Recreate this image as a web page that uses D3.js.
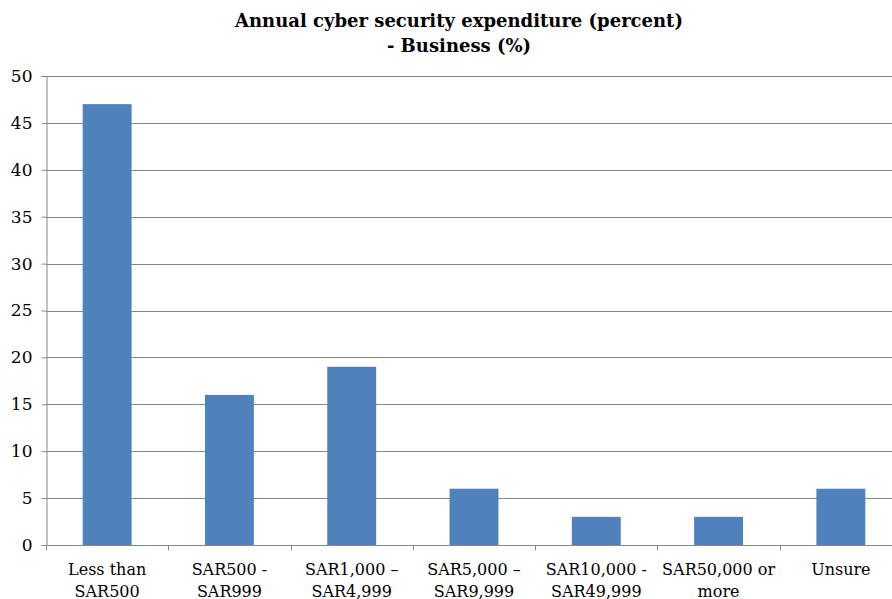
<!DOCTYPE html>
<html>
<head>
<meta charset="utf-8">
<script src="https://cdn.jsdelivr.net/npm/d3@7"></script>
<style>
  body { margin: 0; background: #fff; }
  svg { display: block; }
</style>
</head>
<body>
<div id="chart"></div>
<script>
// chart data
const categories = [
  ["Less than", "SAR500"],
  ["SAR500 -", "SAR999"],
  ["SAR1,000 \u2013", "SAR4,999"],
  ["SAR5,000 \u2013", "SAR9,999"],
  ["SAR10,000 -", "SAR49,999"],
  ["SAR50,000 or", "more"],
  ["Unsure"]
];
const values = [47, 16, 19, 6, 3, 3, 6];
const yTicks = [0, 5, 10, 15, 20, 25, 30, 35, 40, 45, 50];
const titleLines = ["Annual cyber security expenditure (percent)", "- Business (%)"];

const width = 892;
const height = 599;
const margin = { top: 76, right: -10, bottom: 54, left: 46 };
const serif = "'DejaVu Serif', serif";

const svg = d3.select("#chart")
  .append("svg")
  .attr("width", width)
  .attr("height", height)
  .style("font-family", serif);

const x = d3.scaleBand()
  .domain(d3.range(categories.length))
  .range([margin.left, width - margin.right])
  .paddingInner(0)
  .paddingOuter(0);

const y = d3.scaleLinear()
  .domain([0, 50])
  .range([height - margin.bottom, margin.top]);

const gridColor = "#888";

// gridlines
svg.append("g")
  .selectAll("line")
  .data(yTicks.filter(d => d > 0))
  .enter()
  .append("line")
  .attr("x1", margin.left)
  .attr("x2", width - margin.right)
  .attr("y1", d => Math.round(y(d)) + 0.5)
  .attr("y2", d => Math.round(y(d)) + 0.5)
  .attr("stroke", gridColor)
  .attr("stroke-width", 1);

// bars: Excel-like gap width 150%
const barW = x.bandwidth() / 2.5;
svg.append("g")
  .selectAll("rect")
  .data(values)
  .enter()
  .append("rect")
  .attr("x", (d, i) => x(i) + (x.bandwidth() - barW) / 2)
  .attr("y", d => y(d))
  .attr("width", barW)
  .attr("height", d => y(0) - y(d))
  .attr("fill", "#4F81BD");

// y axis
const yAxis = svg.append("g")
  .attr("transform", `translate(${margin.left + 0.5},0)`)
  .call(d3.axisLeft(y).tickValues(yTicks).tickSize(5).tickPadding(9));
yAxis.attr("font-family", null).attr("font-size", null);
yAxis.select(".domain").attr("stroke", gridColor);
yAxis.selectAll(".tick line").attr("stroke", gridColor);
yAxis.selectAll(".tick text")
  .style("font-family", serif)
  .style("font-size", "17px")
  .attr("fill", "#000");

// x axis
const xAxis = svg.append("g")
  .attr("transform", `translate(0,${Math.round(y(0)) + 0.5})`);
xAxis.append("line")
  .attr("x1", margin.left)
  .attr("x2", width - margin.right)
  .attr("stroke", gridColor);
xAxis.selectAll(".xtick")
  .data(d3.range(categories.length + 1))
  .enter()
  .append("line")
  .attr("class", "xtick")
  .attr("x1", i => Math.round(margin.left + i * x.step()) + 0.5)
  .attr("x2", i => Math.round(margin.left + i * x.step()) + 0.5)
  .attr("y1", 0)
  .attr("y2", 5)
  .attr("stroke", gridColor);

const labels = xAxis.selectAll(".xlabel")
  .data(categories)
  .enter()
  .append("text")
  .attr("class", "xlabel")
  .attr("text-anchor", "middle")
  .style("font-family", serif)
  .style("font-size", "16px")
  .attr("transform", (d, i) => `translate(${x(i) + x.bandwidth() / 2},0)`);
labels.selectAll("tspan")
  .data(d => d)
  .enter()
  .append("tspan")
  .attr("x", 0)
  .attr("y", (d, i) => 29 + i * 22)
  .text(d => d);

// title
svg.append("text")
  .attr("text-anchor", "middle")
  .style("font-family", serif)
  .style("font-size", "18px")
  .style("font-weight", "bold")
  .selectAll("tspan")
  .data(titleLines)
  .enter()
  .append("tspan")
  .attr("x", 459)
  .attr("y", (d, i) => 27 + i * 25)
  .text(d => d);
</script>
</body>
</html>
